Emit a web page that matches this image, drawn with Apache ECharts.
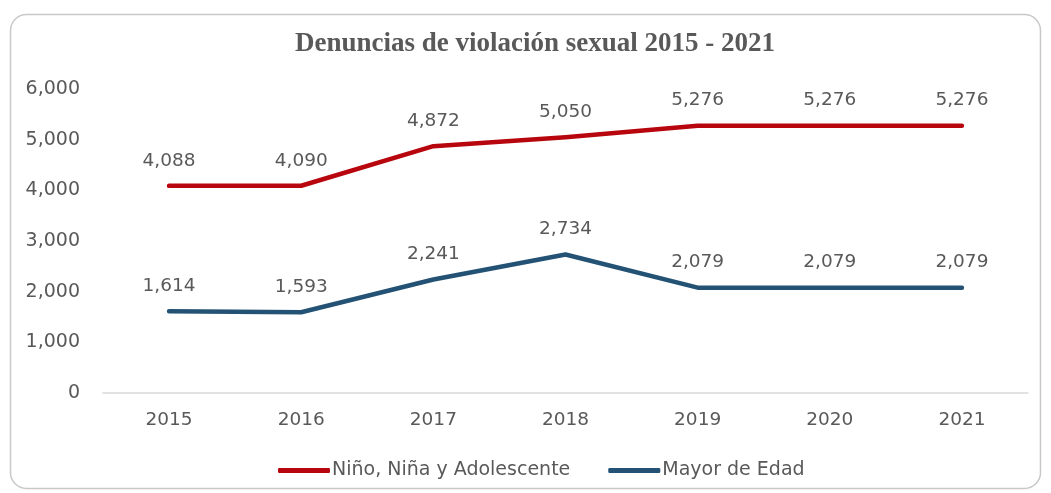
<!DOCTYPE html>
<html>
<head>
<meta charset="utf-8">
<script src="https://cdn.jsdelivr.net/npm/echarts@6/dist/echarts.min.js"></script>
<style>
  html, body { margin: 0; padding: 0; background: #fff; }
  #chart { width: 1051px; height: 493px; }
</style>
</head>
<body>
<div id="chart"></div>
<script>
const years = ["2015", "2016", "2017", "2018", "2019", "2020", "2021"];
const ninos = [4088, 4090, 4872, 5050, 5276, 5276, 5276];
const mayores = [1614, 1593, 2241, 2734, 2079, 2079, 2079];
const seriesNames = ["Niño, Niña y Adolescente", "Mayor de Edad"];
const yTicks = { min: 0, max: 6000, interval: 1000 };

const fmt = (v) => Number(v).toLocaleString("en-US");
const textColor = "#595959";
const font = "DejaVu Sans";

const chart = echarts.init(document.getElementById("chart"));

const makeLine = (name, data, color) => ({
  name,
  type: "line",
  data,
  symbol: "circle",
  symbolSize: 1,
  showSymbol: true,
  lineStyle: { color, width: 4.5, cap: "round", join: "round" },
  itemStyle: { color },
  label: {
    show: true,
    position: "top",
    distance: 15,
    color: textColor,
    fontFamily: font,
    fontSize: 18.5,
    formatter: (p) => fmt(p.value)
  },
  emphasis: { disabled: true }
});

chart.setOption({
  animation: false,
  title: {
    text: "Denuncias de violación sexual 2015 - 2021",
    left: 530,
    textAlign: "center",
    top: 26,
    textStyle: {
      fontFamily: "Liberation Serif",
      fontWeight: "bold",
      fontSize: 27,
      color: textColor
    }
  },
  graphic: [
    {
      type: "rect",
      shape: { x: 10.5, y: 14.5, width: 1030, height: 474, r: 16 },
      style: { fill: "none", stroke: "#c8c8c8", lineWidth: 1.5 },
      z: -1
    }
  ],
  legend: {
    left: 273,
    top: 456,
    itemWidth: 52,
    itemHeight: 5,
    itemGap: 38,
    icon: "roundRect",
    textStyle: {
      color: textColor,
      fontFamily: font,
      fontSize: 19,
      padding: [0, 0, 0, -3]
    },
    data: seriesNames
  },
  grid: { left: 103, right: 23, top: 89, bottom: 100 },
  xAxis: {
    type: "category",
    data: years,
    axisLine: { lineStyle: { color: "#d9d9d9", width: 1.5 } },
    axisTick: { show: false },
    axisLabel: { color: textColor, fontFamily: font, fontSize: 18.5, margin: 18 }
  },
  yAxis: {
    type: "value",
    min: yTicks.min,
    max: yTicks.max,
    interval: yTicks.interval,
    axisLine: { show: false },
    axisTick: { show: false },
    splitLine: { show: false },
    axisLabel: {
      color: textColor,
      fontFamily: font,
      fontSize: 19,
      margin: 23,
      formatter: fmt
    }
  },
  series: [
    makeLine(seriesNames[0], ninos, "#b8060e"),
    makeLine(seriesNames[1], mayores, "#245275")
  ]
});
</script>
</body>
</html>
